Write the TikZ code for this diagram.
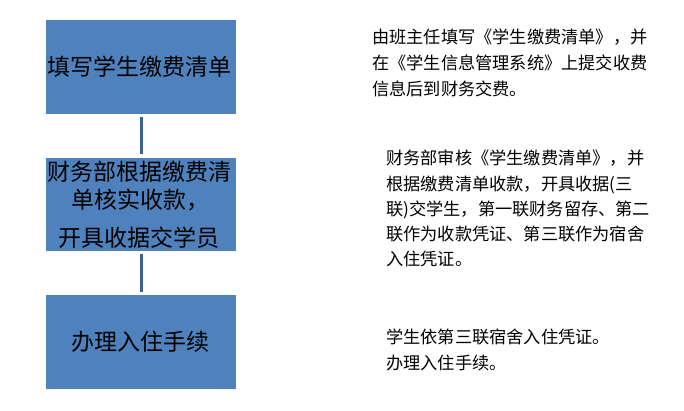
\documentclass[tikz,border=0pt]{standalone}
\usepackage{fontspec}
\setmainfont{Noto Sans CJK SC}
\definecolor{boxblue}{HTML}{4F81BD}
\definecolor{lineblue}{HTML}{3A6294}
\begin{document}
\begin{tikzpicture}[x=1pt,y=-1pt,
  stepbox/.style={fill=boxblue,draw=none,minimum width=190.5pt,minimum height=93.5pt,inner sep=0pt},
  boxtxt/.style={inner sep=0pt,font=\fontsize{23}{28}\selectfont,anchor=center},
  desc/.style={inner sep=0pt,font=\fontsize{17.2}{26}\selectfont,anchor=base west},
  conn/.style={draw=lineblue,line width=3pt}]
\useasboundingbox (0,0) rectangle (684,411);
\node[stepbox] (b1) at (141,67) {};
\node[stepbox] (b2) at (141,204.5) {};
\node[stepbox] (b3) at (141,342) {};
\node[boxtxt] (b1t) at (139.5,67) {填写学生缴费清单};
\node[boxtxt] (b2a) at (139.5,172) {财务部根据缴费清};
\node[boxtxt] (b2b) at (140,200) {单核实收款，};
\node[boxtxt] (b2c) at (139,238) {开具收据交学员};
\node[boxtxt] (b3t) at (140,342) {办理入住手续};
\draw[conn,shorten <=3pt,shorten >=4pt] (b1.south) -- (b2.north);
\draw[conn,shorten <=3pt,shorten >=3pt] (b2.south) -- (b3.north);
\node[desc] (r1a) at (372,43.5) {由班主任填写《学生缴费清单》，并};
\node[desc] (r1b) at (372,69.5) {在《学生信息管理系统》上提交收费};
\node[desc] (r1c) at (372,95.5) {信息后到财务交费。};
\node[desc] (r2a) at (386,165) {财务部审核《学生缴费清单》，并};
\node[desc] (r2b) at (386,190.2) {根据缴费清单收款，开具收据(三};
\node[desc] (r2c) at (386,215.4) {联)交学生，第一联财务留存、第二};
\node[desc] (r2d) at (386,240.6) {联作为收款凭证、第三联作为宿舍};
\node[desc] (r2e) at (386,265.8) {入住凭证。};
\node[desc] (r3a) at (386,343.5) {学生依第三联宿舍入住凭证。};
\node[desc] (r3b) at (386,369.5) {办理入住手续。};
\end{tikzpicture}
\end{document}
